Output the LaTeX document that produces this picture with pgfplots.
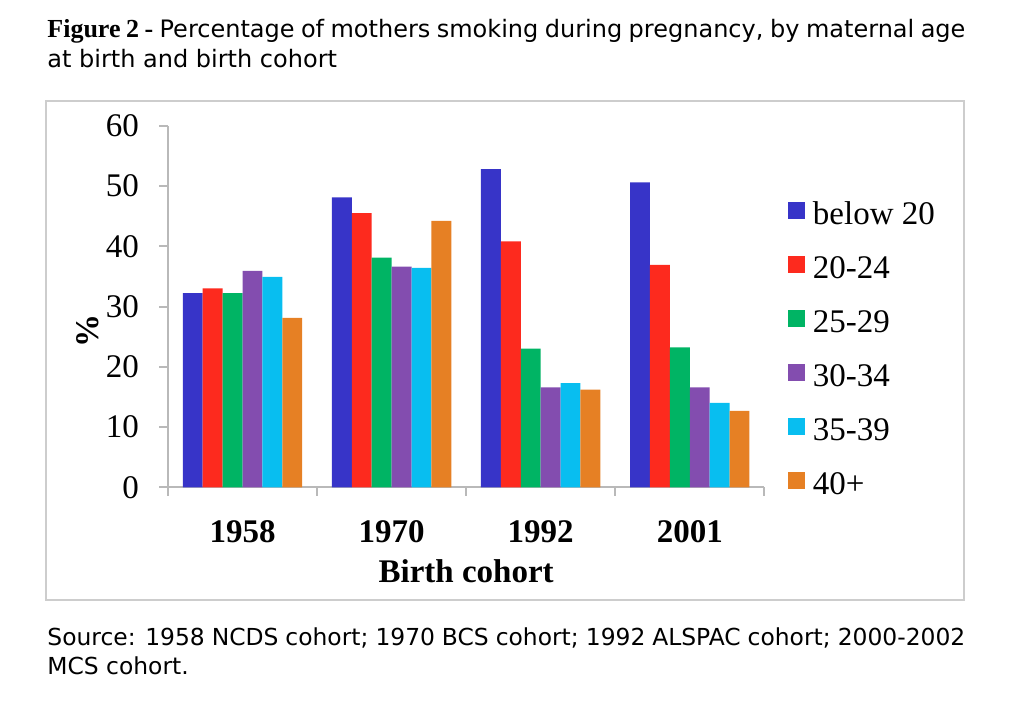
\documentclass[border=0pt]{standalone}
\usepackage{pgfplots}
\pgfplotsset{compat=1.18}
\usepackage{fontspec}
\setmainfont{Liberation Serif}
\newfontfamily\verd{DejaVu Sans}
\definecolor{cblue}{RGB}{55,52,200}
\definecolor{cred}{RGB}{253,42,30}
\definecolor{cgreen}{RGB}{0,180,100}
\definecolor{cpurple}{RGB}{131,77,175}
\definecolor{ccyan}{RGB}{8,190,240}
\definecolor{corange}{RGB}{230,128,36}
\definecolor{axgray}{RGB}{185,185,185}
\definecolor{framegray}{RGB}{205,205,205}
\begin{document}
\begin{tikzpicture}[x=1pt,y=1pt]
\useasboundingbox (0,0) rectangle (512,359.5);
\draw[framegray, line width=1pt] (23,59.5) rectangle (482,309);
\node[anchor=base west, inner sep=0pt, text width=459pt, align=justify,
      font=\verd\fontsize{12}{15}\selectfont] at (23.5,340.5)
  {{\rmfamily\bfseries\fontsize{13}{15}\selectfont Figure 2 -} Percentage of mothers smoking during pregnancy, by maternal age\linebreak at birth and birth cohort};
\node[anchor=base west, inner sep=0pt, text width=459pt, align=justify,
      font=\verd\fontsize{11.7}{14.5}\selectfont] at (23.5,37)
  {Source: 1958 NCDS cohort; 1970 BCS cohort; 1992 ALSPAC cohort; \mbox{2000-2002}\linebreak MCS cohort.};
\begin{axis}[
  at={(84pt,115.85pt)}, anchor=south west,
  scale only axis, width=298.15pt, height=180.8pt,
  ybar=0pt, bar width=9.95pt,
  xmin=-0.5, xmax=3.5, ymin=0, ymax=60,
  xtick={-0.5,0.5,1.5,2.5,3.5}, xticklabels={,,,,},
  extra x ticks={0,1,2,3},
  extra x tick labels={1958,1970,1992,2001},
  extra x tick style={major tick length=0pt,
     xticklabel style={font=\bfseries\fontsize{16.5}{16.5}\selectfont, anchor=base, yshift=-27.7pt}},
  ytick={0,10,...,60},
  axis x line*=bottom, axis y line*=left,
  axis line style={draw=axgray, line width=1pt},
  tick style={draw=axgray, line width=1pt},
  tick align=outside, major tick length=4.25pt,
  /pgf/number format/assume math mode=true,
  yticklabel style={font=\fontsize{16.5}{16.5}\selectfont, xshift=-6.75pt},
  ylabel={\%},
  ylabel style={font=\bfseries\fontsize{16.5}{16.5}\selectfont, at={(axis description cs:0,0.432)}, anchor=center, yshift=40pt},
  xlabel={Birth cohort},
  xlabel style={font=\bfseries\fontsize{16.5}{16.5}\selectfont, at={(axis description cs:0.5,0)}, anchor=base, yshift=-47.35pt},
  legend image code/.code={\fill[#1] (0pt,2.75pt) rectangle (8.5pt,11.25pt);},
  legend style={at={(axis description cs:1.0397,0.792)}, anchor=north west,
     draw=none, fill=none, inner sep=0pt, outer sep=0pt, row sep=11pt, column sep=4pt,
     nodes={inner sep=0pt, anchor=base west, font=\fontsize{16.5}{16.5}\selectfont, text height=12pt, text depth=4pt}},
  legend cell align=left,
]
\addplot[fill=cblue, draw=none] coordinates {(0,32.2) (1,48.1) (2,52.8) (3,50.6)};
\addplot[fill=cred, draw=none] coordinates {(0,33.0) (1,45.5) (2,40.8) (3,36.9)};
\addplot[fill=cgreen, draw=none] coordinates {(0,32.2) (1,38.1) (2,23.0) (3,23.2)};
\addplot[fill=cpurple, draw=none] coordinates {(0,35.9) (1,36.6) (2,16.6) (3,16.6)};
\addplot[fill=ccyan, draw=none] coordinates {(0,34.9) (1,36.4) (2,17.3) (3,14.0)};
\addplot[fill=corange, draw=none] coordinates {(0,28.1) (1,44.2) (2,16.2) (3,12.7)};
\legend{below 20,20-24,25-29,30-34,35-39,40+}
\end{axis}
\end{tikzpicture}
\end{document}
